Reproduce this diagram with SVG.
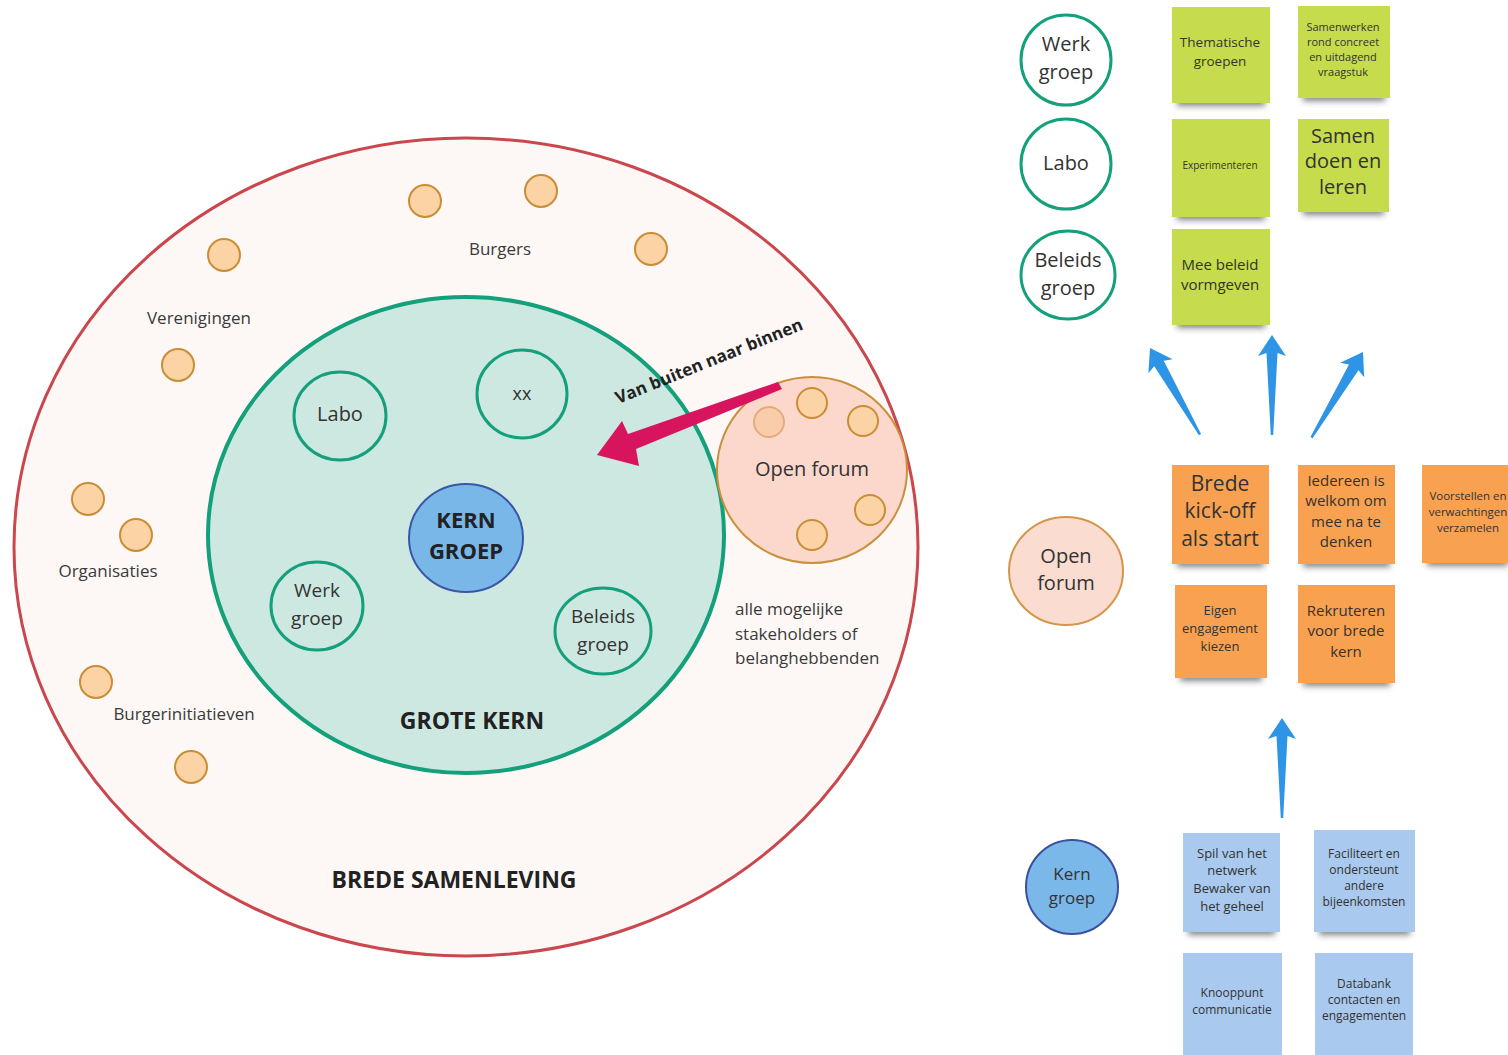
<svg xmlns="http://www.w3.org/2000/svg" width="1508" height="1055" viewBox="0 0 1508 1055">
<defs>
<style>
text{font-family:"Open Sans","Noto Sans","DejaVu Sans",sans-serif;fill:#333;text-anchor:middle}
.b{font-weight:bold;fill:#222}
.lab{fill:#3a3a3a}
.dot{fill:#fcd3a4;stroke:#c98d35;stroke-width:2}
.grp{fill:none;stroke:#15a07c;stroke-width:3}
.lg{fill:#fff;stroke:#15a07c;stroke-width:3}
.g{fill:#c6dc4c}
.o{fill:#f8a150}
.bl{fill:#a9c9ee}
.sh{fill:#333;opacity:.6;filter:url(#blur)}
.ba{fill:#2e95e6}
</style>
<filter id="blur" x="-20%" y="-100%" width="140%" height="300%"><feGaussianBlur stdDeviation="3"/></filter>
<path id="barrow" d="M0,0 L14,21 L5.5,18 L1.2,100 L-1.2,100 L-5.5,18 L-14,21 Z"/>
</defs>
<rect width="1508" height="1055" fill="#fff"/>

<g id="brede-samenleving">
<ellipse cx="466" cy="547" rx="452" ry="409" fill="#fdf8f6" stroke="#c9474d" stroke-width="3"/>
<text x="454" y="888" class="b" font-size="23">BREDE SAMENLEVING</text>
</g>

<g id="outer-dots">
<circle class="dot" cx="425" cy="201" r="16"/>
<circle class="dot" cx="541" cy="191" r="16"/>
<circle class="dot" cx="224" cy="255" r="16"/>
<circle class="dot" cx="651" cy="249" r="16"/>
<circle class="dot" cx="178" cy="365" r="16"/>
<circle class="dot" cx="88" cy="499" r="16"/>
<circle class="dot" cx="136" cy="535" r="16"/>
<circle class="dot" cx="96" cy="682" r="16"/>
<circle class="dot" cx="191" cy="767" r="16"/>
</g>
<g id="outer-labels">
<text x="500" y="255" class="lab" font-size="17">Burgers</text>
<text x="199" y="324" class="lab" font-size="17">Verenigingen</text>
<text x="108" y="577" class="lab" font-size="17">Organisaties</text>
<text x="184" y="720" class="lab" font-size="17">Burgerinitiatieven</text>
<text x="735" y="615" class="lab" font-size="17" style="text-anchor:start">alle mogelijke</text>
<text x="735" y="640" class="lab" font-size="17" style="text-anchor:start">stakeholders of</text>
<text x="735" y="664" class="lab" font-size="17" style="text-anchor:start">belanghebbenden</text>
</g>

<g id="grote-kern">
<ellipse cx="466" cy="535" rx="258" ry="238" fill="#cde8e1" stroke="#14a07b" stroke-width="4"/>
<text x="472" y="729" class="b" font-size="23">GROTE KERN</text>
</g>

<g id="labo"><ellipse class="grp" cx="340" cy="416" rx="46" ry="44"/><text x="340" y="421" font-size="20">Labo</text></g>
<g id="xx"><ellipse class="grp" cx="522" cy="394" rx="45" ry="44"/><text x="522" y="400" font-size="18">xx</text></g>
<g id="kern-groep"><ellipse cx="466" cy="538" rx="57" ry="54" fill="#7ab7e9" stroke="#3a56a6" stroke-width="2"/>
<text x="466" y="528" class="b" font-size="22">KERN</text><text x="466" y="559" class="b" font-size="22">GROEP</text></g>
<g id="werk-groep"><ellipse class="grp" cx="317" cy="606" rx="46" ry="44"/>
<text x="317" y="597" font-size="19">Werk</text><text x="317" y="625" font-size="19">groep</text></g>
<g id="beleids-groep"><ellipse class="grp" cx="603" cy="631" rx="48" ry="43"/>
<text x="603" y="623" font-size="19">Beleids</text><text x="603" y="651" font-size="19">groep</text></g>

<g id="open-forum">
<ellipse cx="812" cy="470" rx="95" ry="93" fill="#fbd8cb" stroke="#c98f3c" stroke-width="2"/>
<circle cx="769" cy="422" r="15" fill="#f9cdaa" stroke="#e2ad7e" stroke-width="2"/>
<circle class="dot" cx="812" cy="403" r="15"/>
<circle class="dot" cx="863" cy="421" r="15"/>
<circle class="dot" cx="870" cy="510" r="15"/>
<circle class="dot" cx="812" cy="535" r="15"/>
<text x="812" y="476" font-size="20">Open forum</text>
</g>

<g id="legend-werk-groep"><circle class="lg" cx="1066" cy="60" r="45"/>
<text x="1066" y="51" font-size="20">Werk</text><text x="1066" y="79" font-size="20">groep</text></g>
<g id="legend-labo"><circle class="lg" cx="1066" cy="164" r="45"/><text x="1066" y="170" font-size="20">Labo</text></g>
<g id="legend-beleids-groep"><ellipse class="lg" cx="1068" cy="275" rx="47" ry="44"/>
<text x="1068" y="267" font-size="20">Beleids</text><text x="1068" y="295" font-size="20">groep</text></g>
<g id="legend-open-forum"><ellipse cx="1066" cy="571" rx="57" ry="54" fill="#fbdcd0" stroke="#d4964a" stroke-width="2"/>
<text x="1066" y="563" font-size="20">Open</text><text x="1066" y="590" font-size="20">forum</text></g>
<g id="legend-kern-groep"><ellipse cx="1072" cy="887" rx="46" ry="47" fill="#7bb8ea" stroke="#3b4fa0" stroke-width="2"/>
<text x="1072" y="880" font-size="17">Kern</text><text x="1072" y="904" font-size="17">groep</text></g>

<g id="note-thematische"><rect class="sh" x="1177" y="97" width="88" height="9"/><rect class="g" x="1172" y="7" width="98" height="96"/>
<text x="1220" y="47" font-size="13.5">Thematische</text><text x="1220" y="66" font-size="13.5">groepen</text></g>
<g id="note-samenwerken"><rect class="sh" x="1303" y="92" width="82" height="9"/><rect class="g" x="1298" y="6" width="92" height="92"/>
<text x="1343" y="31" font-size="11">Samenwerken</text><text x="1343" y="46" font-size="11">rond concreet</text><text x="1343" y="61" font-size="11">en uitdagend</text><text x="1343" y="76" font-size="11">vraagstuk</text></g>
<g id="note-experimenteren"><rect class="sh" x="1177" y="211" width="88" height="9"/><rect class="g" x="1172" y="119" width="98" height="98"/>
<text x="1220" y="169" font-size="10">Experimenteren</text></g>
<g id="note-samen-doen"><rect class="sh" x="1303" y="206" width="81" height="9"/><rect class="g" x="1298" y="119" width="91" height="93"/>
<text x="1343" y="143" font-size="20">Samen</text><text x="1343" y="168" font-size="20">doen en</text><text x="1343" y="194" font-size="20">leren</text></g>
<g id="note-mee-beleid"><rect class="sh" x="1177" y="319" width="88" height="9"/><rect class="g" x="1172" y="229" width="98" height="96"/>
<text x="1220" y="270" font-size="15">Mee beleid</text><text x="1220" y="290" font-size="15">vormgeven</text></g>

<g id="note-kickoff"><rect class="sh" x="1177" y="558" width="87" height="9"/><rect class="o" x="1172" y="465" width="97" height="99"/>
<text x="1220" y="491" font-size="21">Brede</text><text x="1220" y="518" font-size="21">kick-off</text><text x="1220" y="546" font-size="21">als start</text></g>
<g id="note-iedereen"><rect class="sh" x="1303" y="558" width="87" height="9"/><rect class="o" x="1298" y="465" width="97" height="99"/>
<text x="1346" y="486" font-size="15">Iedereen is</text><text x="1346" y="506" font-size="15">welkom om</text><text x="1346" y="527" font-size="15">mee na te</text><text x="1346" y="547" font-size="15">denken</text></g>
<g id="note-voorstellen"><rect class="sh" x="1427" y="557" width="81" height="9"/><rect class="o" x="1422" y="465" width="90" height="98"/>
<text x="1468" y="500" font-size="11.5">Voorstellen en</text><text x="1468" y="516" font-size="11.5">verwachtingen</text><text x="1468" y="532" font-size="11.5">verzamelen</text></g>
<g id="note-eigen"><rect class="sh" x="1180" y="672" width="82" height="9"/><rect class="o" x="1175" y="585" width="92" height="93"/>
<text x="1220" y="615" font-size="13">Eigen</text><text x="1220" y="633" font-size="13">engagement</text><text x="1220" y="651" font-size="13">kiezen</text></g>
<g id="note-rekruteren"><rect class="sh" x="1303" y="677" width="87" height="9"/><rect class="o" x="1298" y="585" width="97" height="98"/>
<text x="1346" y="616" font-size="15">Rekruteren</text><text x="1346" y="636" font-size="15">voor brede</text><text x="1346" y="657" font-size="15">kern</text></g>

<g id="note-spil"><rect class="sh" x="1188" y="926" width="87" height="9"/><rect class="bl" x="1183" y="833" width="97" height="99"/>
<text x="1232" y="858" font-size="13">Spil van het</text><text x="1232" y="875" font-size="13">netwerk</text><text x="1232" y="893" font-size="13">Bewaker van</text><text x="1232" y="911" font-size="13">het geheel</text></g>
<g id="note-faciliteert"><rect class="sh" x="1319" y="926" width="91" height="9"/><rect class="bl" x="1314" y="830" width="101" height="102"/>
<text x="1364" y="858" font-size="12">Faciliteert en</text><text x="1364" y="874" font-size="12">ondersteunt</text><text x="1364" y="890" font-size="12">andere</text><text x="1364" y="906" font-size="12">bijeenkomsten</text></g>
<g id="note-knooppunt"><rect class="bl" x="1183" y="953" width="99" height="102"/>
<text x="1232" y="997" font-size="12">Knooppunt</text><text x="1232" y="1014" font-size="12">communicatie</text></g>
<g id="note-databank"><rect class="bl" x="1315" y="953" width="98" height="102"/>
<text x="1364" y="988" font-size="12">Databank</text><text x="1364" y="1004" font-size="12">contacten en</text><text x="1364" y="1020" font-size="12">engagementen</text></g>

<g id="connectors">
<polygon points="597,455 622,421 628,434 778,382 782,389 636,449 639,466" fill="#d8145f"/>
<text x="709" y="367" class="b" font-size="17" transform="rotate(-22 709 361)">Van buiten naar binnen</text>
<use href="#barrow" class="ba" transform="translate(1150,348) rotate(-30)"/>
<use href="#barrow" class="ba" transform="translate(1272,335)"/>
<use href="#barrow" class="ba" transform="translate(1363,352) rotate(31)"/>
<use href="#barrow" class="ba" transform="translate(1282,718)"/>
</g>
</svg>
